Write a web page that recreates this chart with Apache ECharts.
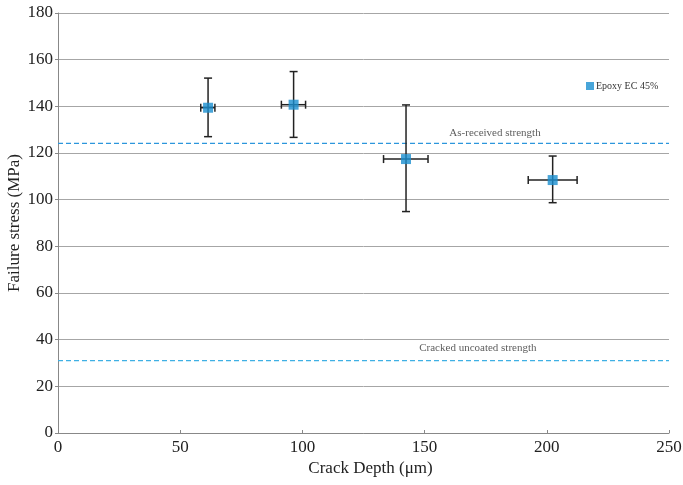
<!DOCTYPE html>
<html>
<head>
<meta charset="utf-8">
<script src="https://cdn.jsdelivr.net/npm/echarts@6/dist/echarts.min.js"></script>
<style>
  html, body { margin: 0; padding: 0; background: #fff; }
  #chart { width: 683px; height: 485px; }
</style>
</head>
<body>
<div id="chart"></div>
<script>
// crack depth (um) and failure stress (MPa)
var crackDepth = [61.4, 96.4, 142.4, 202.4];
var failStress = [139.4, 140.7, 117.4, 108.4];
// error bar limits
var depthLow = [58.4, 91.4, 133.2, 192.4];
var depthHigh = [64.2, 101.3, 151.4, 212.4];
var stressLow = [127.0, 126.7, 94.9, 98.7];
var stressHigh = [152.1, 154.9, 140.6, 118.7];
// reference strengths
var refValues = [124.1, 31.0];
var refLabels = ['As-received strength', 'Cracked uncoated strength'];
var refLabelPos = [[178.8, 128.6], [171.8, 36.4]];

var font = '"Liberation Serif", "DejaVu Serif", serif';

var myChart = echarts.init(document.getElementById('chart'));

var points = crackDepth.map(function (x, i) { return [x, failStress[i]]; });
var bars = crackDepth.map(function (x, i) {
    return [x, failStress[i], depthLow[i], depthHigh[i], stressLow[i], stressHigh[i]];
});

// horizontal dashed reference lines across the full x range
var refSeries = refValues.map(function (v, i) {
    return {
        name: 'ref' + i,
        type: 'line',
        z: 2,
        silent: true,
        symbol: 'none',
        lineStyle: { color: ['#2c96dc', '#3fb0e4'][i], type: [5, 3], width: 1.2 },
        data: [[0, v], [250, v]]
    };
});

var option = {
    animation: false,
    backgroundColor: '#fff',
    textStyle: { fontFamily: font },
    grid: { left: 58, right: 14, top: 13, bottom: 52, containLabel: false, outerBoundsMode: 'none' },
    legend: {
        data: ['Epoxy EC 45%'],
        left: 581, top: 76,
        icon: 'rect', itemWidth: 8, itemHeight: 8, itemGap: 2,
        textStyle: { fontFamily: font, fontSize: 10, color: '#333', padding: [0, 0, 0, -3] }
    },
    xAxis: {
        type: 'value', min: 0, max: 250, interval: 50,
        name: 'Crack Depth (\u03bcm)', nameLocation: 'middle', nameGap: 27, nameMoveOverlap: false,
        nameTextStyle: { fontFamily: font, fontSize: 17, color: '#222', padding: [0, 0, 0, 14] },
        axisLine: { lineStyle: { color: '#888', width: 1 } },
        axisTick: { show: true, inside: true, length: 3, lineStyle: { color: '#888' } },
        axisLabel: { fontFamily: font, fontSize: 17, color: '#222', margin: 6 },
        splitLine: { show: false }
    },
    yAxis: {
        type: 'value', min: 0, max: 180, interval: 20,
        name: 'Failure stress (MPa)', nameLocation: 'middle', nameGap: 35, nameMoveOverlap: false,
        nameTextStyle: { fontFamily: font, fontSize: 17, color: '#222' },
        axisLine: { show: true, lineStyle: { color: '#888', width: 1 } },
        axisTick: { show: true, length: 3, lineStyle: { color: '#888' } },
        axisLabel: { fontFamily: font, fontSize: 17, color: '#222', margin: 5 },
        splitLine: { show: true, lineStyle: { color: '#a6a6a6', width: 1 } }
    },
    series: refSeries.concat([
        {
            name: 'errors',
            type: 'custom',
            z: 3,
            data: bars,
            renderItem: function (params, api) {
                var c = api.coord([api.value(0), api.value(1)]);
                var xl = api.coord([api.value(2), api.value(1)]);
                var xh = api.coord([api.value(3), api.value(1)]);
                var yl = api.coord([api.value(0), api.value(4)]);
                var yh = api.coord([api.value(0), api.value(5)]);
                var cap = 4;
                var st = { stroke: '#222', lineWidth: 1.5 };
                var line = function (x1, y1, x2, y2) {
                    return { type: 'line', shape: { x1: x1, y1: y1, x2: x2, y2: y2 }, style: st };
                };
                return {
                    type: 'group',
                    children: [
                        line(c[0], yl[1], c[0], yh[1]),
                        line(c[0] - cap, yl[1], c[0] + cap, yl[1]),
                        line(c[0] - cap, yh[1], c[0] + cap, yh[1]),
                        line(xl[0], c[1], xh[0], c[1]),
                        line(xl[0], c[1] - cap, xl[0], c[1] + cap),
                        line(xh[0], c[1] - cap, xh[0], c[1] + cap)
                    ]
                };
            }
        },
        {
            name: 'labels',
            type: 'scatter',
            z: 4,
            silent: true,
            symbol: 'circle',
            symbolSize: 1,
            itemStyle: { color: 'rgba(0,0,0,0)' },
            label: {
                show: true, position: 'inside', fontFamily: font, fontSize: 11, color: '#333',
                formatter: function (p) { return refLabels[p.dataIndex]; }
            },
            data: refLabelPos
        },
        {
            name: 'Epoxy EC 45%',
            type: 'scatter',
            z: 5,
            symbol: 'rect',
            symbolSize: 10,
            itemStyle: { color: '#1a8fd0' },
            data: points
        }
    ])
};

myChart.setOption(option);
</script>
</body>
</html>
